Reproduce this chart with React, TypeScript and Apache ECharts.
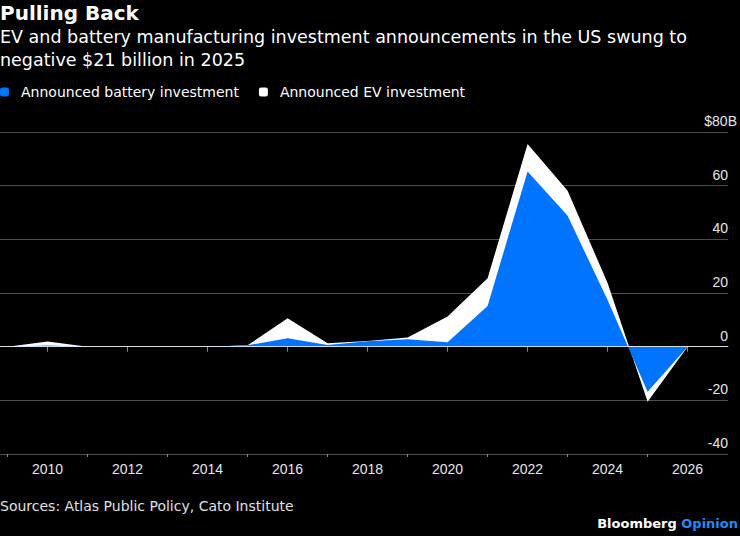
import React, { useEffect, useRef } from "react";
import * as echarts from "echarts";

const years = [2009, 2010, 2011, 2012, 2013, 2014, 2015, 2016, 2017, 2018, 2019, 2020, 2021, 2022, 2023, 2024, 2025, 2026];
const battery = [0, 0.4, 0, 0, 0, 0, 0.5, 3.1, 0.6, 2.0, 2.8, 1.6, 15.2, 65.3, 48.8, 17.4, -16.8, 0];
const evInvest = [0, 1.5, 0, 0, 0, 0, 0, 7.5, 0.7, 0.1, 0.6, 9.6, 10.3, 10.2, 9.3, 6.3, -3.7, 0];
const yTicks = [-40, -20, 0, 20, 40, 60];
const yTopTick = [80];

const BLUE = "#0073ff";
const TITLE = "Pulling Back";
const SUBTITLE = "EV and battery manufacturing investment announcements in the US swung to\nnegative $21 billion in 2025";
const SOURCE = "Sources: Atlas Public Policy, Cato Institute";
const LEG_BAT = "Announced battery investment";
const LEG_EV = "Announced EV investment";

export default function App() {
  const ref = useRef<HTMLDivElement>(null);
  useEffect(() => {
    const chart = echarts.init(ref.current as HTMLDivElement, null, { renderer: "svg" });
    const axisGray = "#8a8a8a";
    const labelColor = "#e6e6e6";
    const totals = battery.map((b, i) => Math.round((b + evInvest[i]) * 10) / 10);
    const yearCats = years.map(String);
    const isEven = (_i: number, v: string) => Number(v) % 2 === 0;
    const isOdd = (_i: number, v: string) => Number(v) % 2 !== 0;
    const yAxisBase = {
      type: "value",
      gridIndex: 0,
      position: "right",
      min: -40,
      max: 80,
      interval: 20,
      axisLine: { show: false },
      axisTick: { show: false },
    };
    const yLabelBase = {
      inside: true,
      margin: 0,
      verticalAlign: "bottom",
      padding: [0, 0, 4, 0],
      color: labelColor,
      fontSize: 14,
      fontFamily: "Liberation Sans",
    };
    chart.setOption({
      animation: false,
      backgroundColor: "#000",
      title: {
        text: TITLE,
        subtext: SUBTITLE,
        left: 0,
        top: 0,
        padding: 0,
        itemGap: 0,
        textStyle: { color: "#fff", fontSize: 20, fontWeight: "bold", fontFamily: "DejaVu Sans", lineHeight: 26 },
        subtextStyle: { color: "#fff", fontSize: 17.5, fontFamily: "DejaVu Sans", lineHeight: 22.5 },
      },
      legend: {
        left: 0,
        top: 85,
        padding: 0,
        itemWidth: 9,
        itemHeight: 9,
        itemGap: 20,
        icon: "roundRect",
        textStyle: { color: "#fff", fontSize: 14, fontFamily: "DejaVu Sans", padding: [0, 0, 0, 7] },
        data: [
          { name: LEG_BAT, itemStyle: { color: BLUE, borderWidth: 0 } },
          { name: LEG_EV, itemStyle: { color: "#fff", borderWidth: 0 } },
        ],
      },
      grid: [
        { left: 0, right: 12, top: 132, bottom: 82, containLabel: false },
        { left: 7.5, right: 52.5, top: 132, bottom: 82, containLabel: false },
      ],
      xAxis: [
        {
          type: "value",
          gridIndex: 0,
          min: 2008.81,
          max: 2027.01,
          position: "bottom",
          axisLine: { show: true, lineStyle: { color: axisGray, width: 1 } },
          axisTick: { show: false },
          axisLabel: { show: false },
          splitLine: { show: false },
        },
        {
          type: "category",
          gridIndex: 1,
          data: yearCats,
          boundaryGap: false,
          position: "bottom",
          axisLine: { show: false },
          axisTick: { show: true, length: 5, interval: isEven, lineStyle: { color: axisGray, width: 1 } },
          axisLabel: {
            interval: isEven,
            color: labelColor,
            fontSize: 14,
            fontFamily: "Liberation Sans",
            margin: 8,
          },
          splitLine: { show: false },
        },
        {
          type: "category",
          gridIndex: 1,
          data: yearCats,
          boundaryGap: false,
          position: "bottom",
          axisLine: { show: false },
          axisTick: { show: true, length: 3, interval: isOdd, lineStyle: { color: axisGray, width: 1 } },
          axisLabel: { show: false },
          splitLine: { show: false },
        },
      ],
      yAxis: [
        {
          ...yAxisBase,
          splitLine: { show: true, lineStyle: { color: "#4f4f4f", width: 1 } },
          axisLabel: { ...yLabelBase, customValues: yTicks, formatter: (v: number) => String(v) },
        },
        {
          ...yAxisBase,
          offset: 9,
          splitLine: { show: false },
          axisLabel: { ...yLabelBase, customValues: yTopTick, formatter: (v: number) => "$" + v + "B" },
        },
        {
          type: "value",
          gridIndex: 1,
          min: -40,
          max: 80,
          show: false,
        },
      ],
      series: [
        {
          name: LEG_EV,
          type: "line",
          xAxisIndex: 0,
          yAxisIndex: 0,
          data: years.map((y, i) => [y, totals[i]]),
          symbol: "none",
          lineStyle: { width: 0, opacity: 0 },
          itemStyle: { color: "#fff" },
          areaStyle: { color: "#fff", opacity: 1 },
          z: 2,
        },
        {
          name: LEG_BAT,
          type: "line",
          xAxisIndex: 0,
          yAxisIndex: 0,
          data: years.map((y, i) => [y, battery[i]]),
          symbol: "none",
          lineStyle: { width: 0, opacity: 0 },
          itemStyle: { color: BLUE },
          areaStyle: { color: BLUE, opacity: 1 },
          z: 3,
          markLine: {
            silent: true,
            symbol: "none",
            label: { show: false },
            lineStyle: { color: "rgba(255,255,255,0.7)", width: 1, type: "solid" },
            data: [{ yAxis: 0 }],
          },
        },
      ],
      graphic: [
        {
          type: "text",
          left: 0,
          top: 499,
          style: { text: SOURCE, fill: "#e0e0e0", fontSize: 14, fontFamily: "DejaVu Sans" },
        },
        {
          type: "text",
          right: 2,
          top: 517,
          style: {
            text: "{a|Bloomberg} {b|Opinion}",
            rich: {
              a: { fill: "#fff", fontSize: 13, fontWeight: "bold", fontFamily: "DejaVu Sans" },
              b: { fill: "#1a8cff", fontSize: 13, fontWeight: "bold", fontFamily: "DejaVu Sans" },
            },
            fontSize: 13,
            fontWeight: "bold",
            fontFamily: "DejaVu Sans",
          },
        },
      ],
    });
    return () => chart.dispose();
  }, []);
  return (
    <div
      ref={ref}
      style={{ position: "absolute", left: 0, top: 0, width: 740, height: 536, background: "#000" }}
    />
  );
}
